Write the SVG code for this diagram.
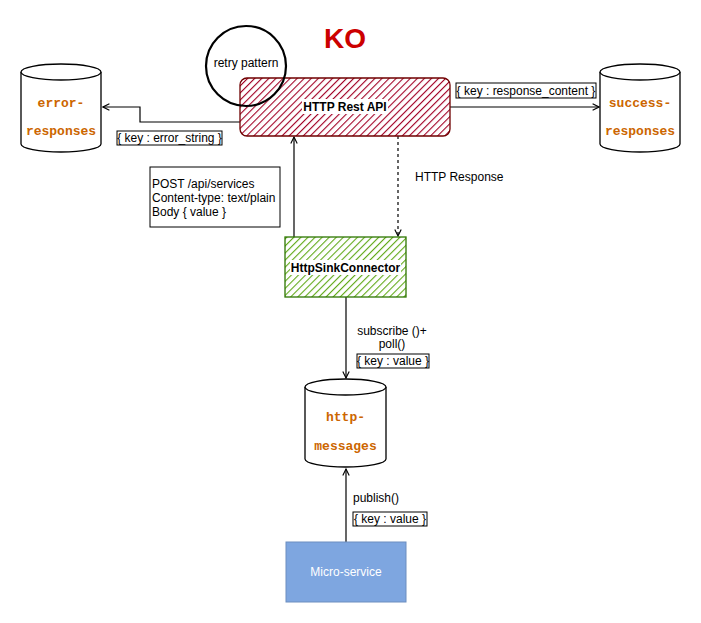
<svg xmlns="http://www.w3.org/2000/svg" width="701" height="623" viewBox="0 0 701 623">
<style>
text{font-family:"Liberation Sans",Arial,sans-serif;font-size:12px;fill:#000}
.cyl{fill:#fff;stroke:#000;stroke-width:1.3}
.cyltxt{font-family:"Liberation Mono","Courier New",monospace;font-weight:bold;font-size:13px;fill:#CC6600;text-anchor:middle}
.conn{fill:none;stroke:#000;stroke-width:1.2}
.lbl{fill:#fff;stroke:#000;stroke-width:1}
.bold{font-weight:bold;text-anchor:middle}
</style>
<defs>
<pattern id="hatchRed" patternUnits="userSpaceOnUse" width="5" height="5" patternTransform="rotate(45)">
<rect width="5" height="5" fill="#fff"/>
<line x1="0" y1="0" x2="0" y2="5" stroke="#A20025" stroke-width="2.2"/>
</pattern>
<pattern id="hatchGreen" patternUnits="userSpaceOnUse" width="5" height="5" patternTransform="rotate(45)">
<rect width="5" height="5" fill="#fff"/>
<line x1="0" y1="0" x2="0" y2="5" stroke="#60A917" stroke-width="2.2"/>
</pattern>
<marker id="arr" viewBox="0 0 10 10" refX="9" refY="5" markerWidth="8" markerHeight="8" orient="auto-start-reverse" markerUnits="userSpaceOnUse">
<path d="M1,1 L9,5 L1,9" fill="none" stroke="#000" stroke-width="1.4"/>
</marker>
</defs>

<g id="title"><text x="345" y="48" style="font-size:28px;font-weight:bold;fill:#CC0000;text-anchor:middle">KO</text></g>

<g id="connectors">
<path class="conn" d="M240,122 H140 V107 H103" marker-end="url(#arr)"/>
<path class="conn" d="M450,107 H599" marker-end="url(#arr)"/>
<path class="conn" d="M294,237 V137" marker-end="url(#arr)"/>
<path class="conn" d="M398,136 V236" stroke-dasharray="3,3" marker-end="url(#arr)"/>
<path class="conn" d="M346,297 V378" marker-end="url(#arr)"/>
<path class="conn" d="M346,542 V469" marker-end="url(#arr)"/>
</g>

<g id="rest-api">
<rect x="240" y="78" width="210" height="58" rx="7" fill="url(#hatchRed)" stroke="#6F0000" stroke-width="1.3"/>
<rect x="302" y="99" width="86" height="15" fill="#fff"/>
<text x="345" y="111" class="bold">HTTP Rest API</text>
</g>

<g id="retry">
<circle cx="246" cy="66" r="40" fill="none" stroke="#000" stroke-width="2.2"/>
<text x="246" y="67" text-anchor="middle">retry pattern</text>
</g>

<g id="error-responses">
<path class="cyl" d="M21,72 a40,8 0 0 1 80,0 v72 a40,8 0 0 1 -80,0 z"/>
<path class="cyl" d="M21,72 a40,8 0 0 0 80,0" fill="none"/>
<text x="61" y="107" class="cyltxt">error-</text>
<text x="61" y="135" class="cyltxt">responses</text>
</g>

<g id="success-responses">
<path class="cyl" d="M600,72 a40,8 0 0 1 80,0 v72 a40,8 0 0 1 -80,0 z"/>
<path class="cyl" d="M600,72 a40,8 0 0 0 80,0" fill="none"/>
<text x="640" y="107" class="cyltxt">success-</text>
<text x="640" y="135" class="cyltxt">responses</text>
</g>

<g id="label-error">
<rect x="117" y="131" width="105" height="14" class="lbl"/>
<text x="169.5" y="142" text-anchor="middle">{ key : error_string }</text>
</g>

<g id="label-success">
<rect x="456" y="83" width="140" height="15" class="lbl"/>
<text x="526" y="95" text-anchor="middle">{ key : response_content }</text>
</g>

<g id="post-note">
<rect x="150" y="167" width="130" height="60" fill="#fff" stroke="#000" stroke-width="1"/>
<text x="152" y="188">POST /api/services</text>
<text x="152" y="202">Content-type: text/plain</text>
<text x="152" y="216">Body { value }</text>
</g>

<g id="http-response-label"><text x="415" y="181">HTTP Response</text></g>

<g id="sink">
<rect x="285" y="237" width="121" height="60" fill="url(#hatchGreen)" stroke="#2D7600" stroke-width="1.3"/>
<rect x="290" y="260" width="111" height="15" fill="#fff"/>
<text x="345.5" y="272" class="bold">HttpSinkConnector</text>
</g>

<g id="subscribe-label">
<text x="392" y="335" text-anchor="middle">subscribe ()+</text>
<text x="392" y="348" text-anchor="middle">poll()</text>
<rect x="357" y="354" width="72" height="14" class="lbl"/>
<text x="393" y="365" text-anchor="middle">{ key : value }</text>
</g>

<g id="http-messages">
<path class="cyl" d="M305,387 a40.5,8 0 0 1 81,0 v72 a40.5,8 0 0 1 -81,0 z"/>
<path class="cyl" d="M305,387 a40.5,8 0 0 0 81,0" fill="none"/>
<text x="345.5" y="421" class="cyltxt">http-</text>
<text x="345.5" y="450" class="cyltxt">messages</text>
</g>

<g id="publish-label">
<text x="353" y="502">publish()</text>
<rect x="353" y="512" width="74" height="14" class="lbl"/>
<text x="390" y="523" text-anchor="middle">{ key : value }</text>
</g>

<g id="micro-service">
<rect x="286" y="542" width="120" height="60" fill="#7EA6E0" stroke="#6C8EBF" stroke-width="1"/>
<text x="346" y="576" text-anchor="middle" style="fill:#fff">Micro-service</text>
</g>
</svg>
